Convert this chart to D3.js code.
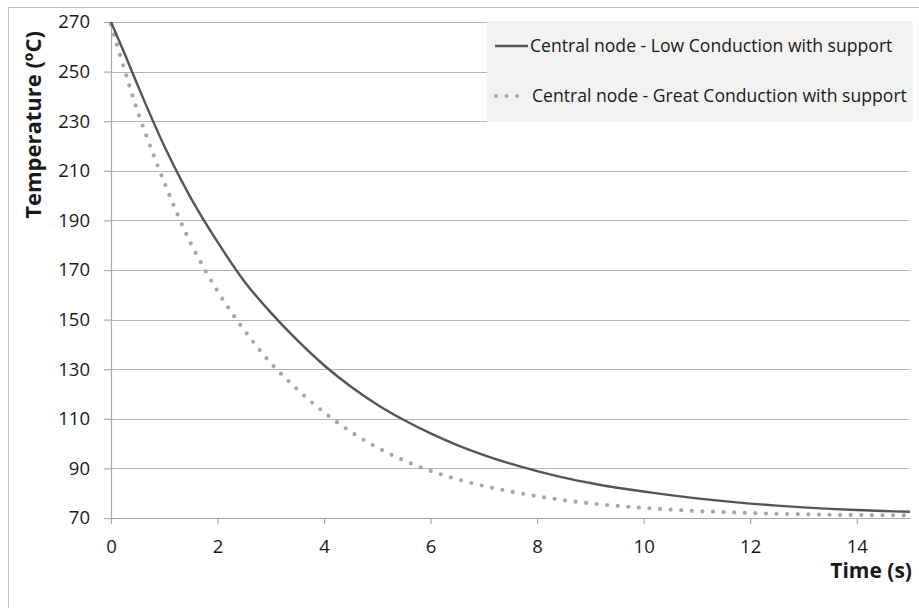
<!DOCTYPE html>
<html>
<head>
<meta charset="utf-8">
<script src="https://cdn.jsdelivr.net/npm/d3@7"></script>
<style>
  body { margin: 0; background: #fff; }
  svg { display: block; }
  text { font-family: "Open Sans", sans-serif; fill: #1a1a1a; }
</style>
</head>
<body>
<svg id="chart" width="919" height="608"></svg>
<script>
// ---- data ----
const times = [0, 0.25, 0.5, 1, 1.5, 2, 2.5, 3, 3.5, 4, 4.5, 5, 5.5, 6, 6.5, 7, 7.5, 8, 8.5, 9, 9.5, 10, 10.5, 11, 11.5, 12, 12.5, 13, 13.5, 14, 14.5, 15];
const lowConduction = [270, 257.5, 244.5, 220, 199, 181.3, 165.5, 152.8, 141.6, 131.6, 123, 115.7, 109.5, 104.1, 99.4, 95.4, 91.9, 88.9, 86.3, 84.1, 82.2, 80.7, 79.2, 77.9, 76.8, 75.8, 75, 74.3, 73.7, 73.2, 72.8, 72.5];
const greatConduction = [269, 251, 234, 205.3, 180.7, 161.5, 145.8, 132.5, 121.8, 112.6, 104.8, 98.4, 93.2, 89, 85.6, 82.9, 80.7, 78.8, 77.2, 75.9, 74.9, 74.1, 73.4, 72.8, 72.4, 72, 71.7, 71.5, 71.3, 71.2, 71.1, 71];
const seriesNames = ["Central node - Low Conduction with support", "Central node - Great Conduction with support"];
const xTicks = [0, 2, 4, 6, 8, 10, 12, 14];
const yTicks = [70, 90, 110, 130, 150, 170, 190, 210, 230, 250, 270];
const xTitle = "Time (s)";
const yTitle = "Temperature (ºC)";

// ---- layout ----
const svg = d3.select("#chart");
const mLeft = 111, mRight = 910, mTop = 22, mBottom = 518;
const x = d3.scaleLinear().domain([0, 15]).range([mLeft, mRight]);
const y = d3.scaleLinear().domain([70, 270]).range([mBottom, mTop]);

// outer border
svg.append("rect").attr("x", 8.5).attr("y", 7.5).attr("width", 930).attr("height", 640)
  .attr("fill", "none").attr("stroke", "#c4c4c4").attr("stroke-width", 1);

// gridlines
svg.append("g").selectAll("line").data(yTicks.filter(d => d !== 70)).join("line")
  .attr("x1", mLeft).attr("x2", mRight)
  .attr("y1", d => Math.round(y(d)) + 0.5).attr("y2", d => Math.round(y(d)) + 0.5)
  .attr("stroke", "#b4b4b4").attr("stroke-width", 1.2);

// y axis
const yAxis = svg.append("g").attr("transform", `translate(${mLeft},0)`)
  .call(d3.axisLeft(y).tickValues(yTicks).tickSize(7).tickSizeOuter(0).tickPadding(14).tickFormat(d3.format("d")));
yAxis.select(".domain").attr("stroke", "#a9a9a9").attr("stroke-width", 1.2);
yAxis.selectAll(".tick line").attr("stroke", "#a9a9a9").attr("stroke-width", 1.2);
yAxis.selectAll(".tick text").attr("font-size", 18.5).attr("font-family", "Open Sans, sans-serif").attr("fill", "#1a1a1a");

// x axis
const xAxis = svg.append("g").attr("transform", `translate(0,${mBottom})`)
  .call(d3.axisBottom(x).tickValues(xTicks).tickSize(6).tickSizeOuter(0).tickPadding(16).tickFormat(d3.format("d")));
xAxis.select(".domain").attr("stroke", "#a9a9a9").attr("stroke-width", 1.2);
xAxis.selectAll(".tick line").attr("stroke", "#a9a9a9").attr("stroke-width", 1.2);
xAxis.selectAll(".tick text").attr("font-size", 18.5).attr("font-family", "Open Sans, sans-serif").attr("fill", "#1a1a1a");

// axis titles
svg.append("text").attr("transform", "translate(41,125) rotate(-90)")
  .attr("text-anchor", "middle").attr("font-size", 22).attr("font-weight", "bold")
  .attr("font-family", "Liberation Sans, Arial, sans-serif").text(yTitle);
svg.append("text").attr("x", 912).attr("y", 578)
  .attr("text-anchor", "end").attr("font-size", 21).attr("font-weight", "bold")
  .attr("font-family", "Liberation Sans, Arial, sans-serif").text(xTitle);

// lines
const line = d3.line().x((d, i) => x(times[i])).y(d => y(d)).curve(d3.curveCatmullRom.alpha(0.5));
svg.append("path").datum(greatConduction).attr("d", line)
  .attr("fill", "none").attr("stroke", "#a6a6a6").attr("stroke-width", 4.2)
  .attr("stroke-linecap", "round").attr("stroke-dasharray", "0 10.6");
svg.append("path").datum(lowConduction).attr("d", line)
  .attr("fill", "none").attr("stroke", "#555555").attr("stroke-width", 2.4);

// legend
const lg = svg.append("g");
lg.append("rect").attr("x", 487).attr("y", 21).attr("width", 426).attr("height", 101).attr("fill", "#f2f2f2");
lg.append("line").attr("x1", 495).attr("x2", 528).attr("y1", 46).attr("y2", 46)
  .attr("stroke", "#555555").attr("stroke-width", 2.4);
lg.append("line").attr("x1", 496).attr("x2", 520).attr("y1", 96).attr("y2", 96)
  .attr("stroke", "#a6a6a6").attr("stroke-width", 4.2).attr("stroke-linecap", "round").attr("stroke-dasharray", "0 10.6");
lg.selectAll("text.leg").data(seriesNames).join("text").attr("class", "leg")
  .attr("x", (d, i) => i === 0 ? 530 : 532).attr("y", (d, i) => 46 + i * 50).attr("dy", "0.35em")
  .attr("font-size", 17.6).text(d => d);
</script>
</body>
</html>
